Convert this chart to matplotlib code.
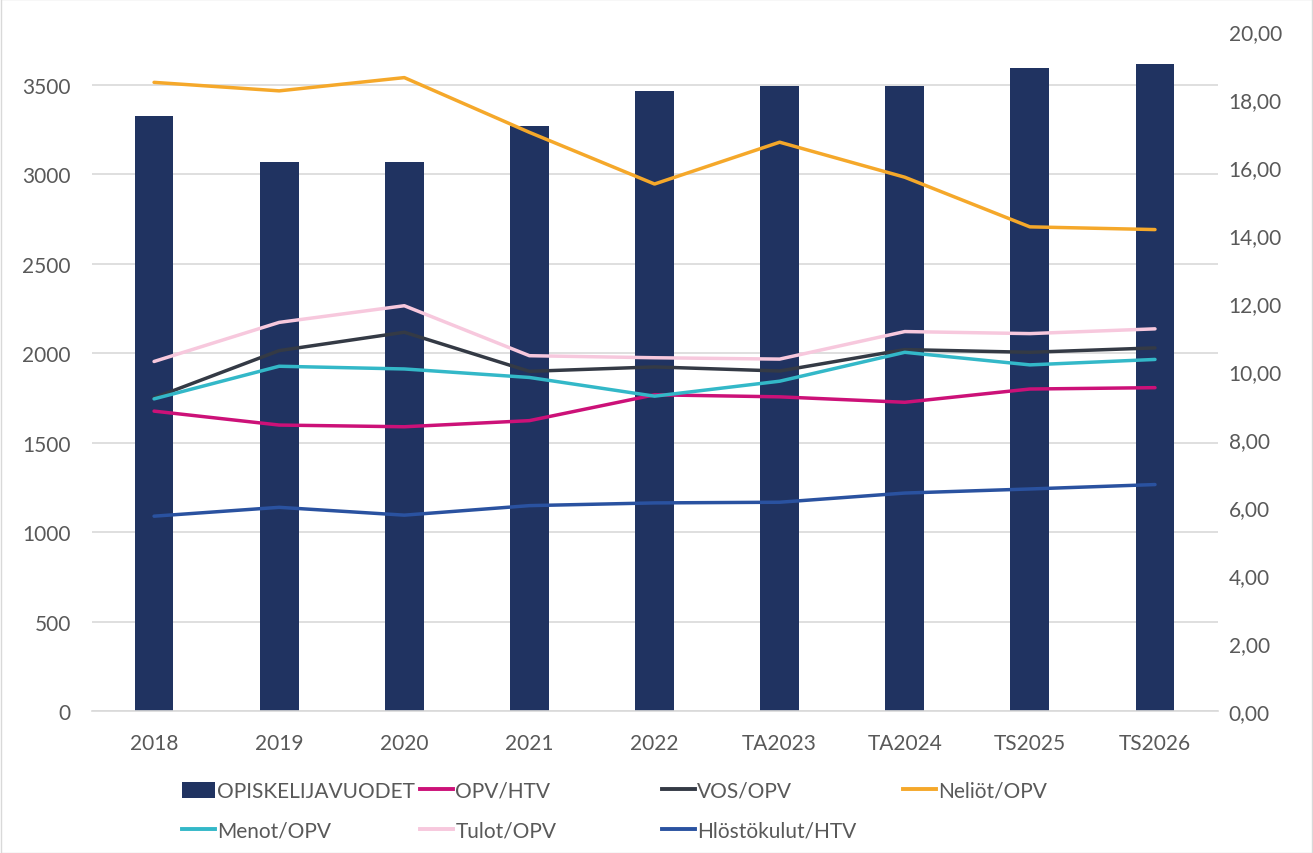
import matplotlib
matplotlib.use("Agg")
import matplotlib.pyplot as plt
from matplotlib.patches import Patch, Rectangle
from matplotlib.lines import Line2D
from matplotlib.ticker import FuncFormatter

categories = ["2018", "2019", "2020", "2021", "2022", "TA2023", "TA2024", "TS2025", "TS2026"]
opiskelijavuodet = [3325, 3068, 3069, 3269, 3466, 3493, 3494, 3595, 3616]
opv_htv = [8.82, 8.41, 8.36, 8.54, 9.30, 9.24, 9.08, 9.47, 9.51]
vos_opv = [9.21, 10.60, 11.14, 9.99, 10.12, 10.00, 10.63, 10.55, 10.68]
neliot_opv = [18.49, 18.24, 18.63, 17.02, 15.50, 16.73, 15.70, 14.24, 14.16]
menot_opv = [9.18, 10.14, 10.06, 9.81, 9.26, 9.70, 10.55, 10.18, 10.34]
tulot_opv = [10.28, 11.43, 11.92, 10.45, 10.39, 10.35, 11.16, 11.10, 11.24]
hlostokulut_htv = [5.73, 5.99, 5.76, 6.04, 6.12, 6.14, 6.41, 6.53, 6.66]

plt.rcParams['font.family'] = ['Lato', 'DejaVu Sans']
TXT = '#595959'
FS = 15

fig = plt.figure(figsize=(13.13, 8.54), dpi=100)
ax = fig.add_axes([0.0697, 0.1663, 0.8576, 0.7962])
x = list(range(len(categories)))
ax.bar(x, opiskelijavuodet, width=0.31, color='#203361', zorder=2)
ax.set_xlim(-0.5, len(categories) - 0.5)
ax.set_ylim(0, 3800)
ax.set_yticks(range(0, 3501, 500))
ax.yaxis.grid(True, color='#D9D9D9', linewidth=1.2, zorder=0)
ax.set_axisbelow(True)
ax.set_xticks(x)
ax.set_xticklabels(categories)
for s in ['top', 'right', 'left']:
    ax.spines[s].set_visible(False)
ax.spines['bottom'].set_color('#D9D9D9')
ax.spines['bottom'].set_linewidth(1.2)
ax.tick_params(axis='both', length=0, colors=TXT, labelsize=FS)
ax.tick_params(axis='x', pad=16)
ax.tick_params(axis='y', pad=15)

ax2 = ax.twinx()
ax2.set_ylim(0, 20)
ax2.set_yticks(range(0, 21, 2))
ax2.yaxis.set_major_formatter(FuncFormatter(lambda v, p: f"{v:.2f}".replace('.', ',')))
for s in ['top', 'right', 'left', 'bottom']:
    ax2.spines[s].set_visible(False)
ax2.tick_params(axis='y', length=0, colors=TXT, labelsize=FS, pad=8)

series = [
    (opv_htv, '#CC1178', 'OPV/HTV'),
    (vos_opv, '#343A45', 'VOS/OPV'),
    (neliot_opv, '#F5A82A', 'Neliöt/OPV'),
    (menot_opv, '#33B8C8', 'Menot/OPV'),
    (tulot_opv, '#F7C8DD', 'Tulot/OPV'),
    (hlostokulut_htv, '#2A52A0', 'Hlöstökulut/HTV'),
]
colors = {}
for vals, c, lab in series:
    ax2.plot(x, vals, color=c, linewidth=2.5, solid_capstyle='round', zorder=3)
    colors[lab] = c

def lh(lab):
    return Line2D([], [], color=colors[lab], linewidth=2.8)

cols = [
    ([Patch(facecolor='#203361'), lh('Menot/OPV')], ['OPISKELIJAVUODET', 'Menot/OPV'], 183),
    ([lh('OPV/HTV'), lh('Tulot/OPV')], ['OPV/HTV', 'Tulot/OPV'], 421),
    ([lh('VOS/OPV'), lh('Hlöstökulut/HTV')], ['VOS/OPV', 'Hlöstökulut/HTV'], 663),
    ([lh('Neliöt/OPV')], ['Neliöt/OPV'], 904),
]
for h, l, xpx in cols:
    fig.legend(h, l, loc='upper left',
               bbox_to_anchor=((xpx - 1) / 1313, (854 - 782) / 854),
               bbox_transform=fig.transFigure,
               frameon=False, fontsize=FS, labelcolor=TXT, handlelength=1.6,
               handleheight=0.8, handletextpad=0.1, labelspacing=0.95,
               borderaxespad=0, borderpad=0)

fig.patches.append(Rectangle((0.0005, 0.0005), 0.999, 0.999, transform=fig.transFigure,
                             fill=False, edgecolor='#D9D9D9', linewidth=1))
fig.savefig('out.png', dpi=100)
